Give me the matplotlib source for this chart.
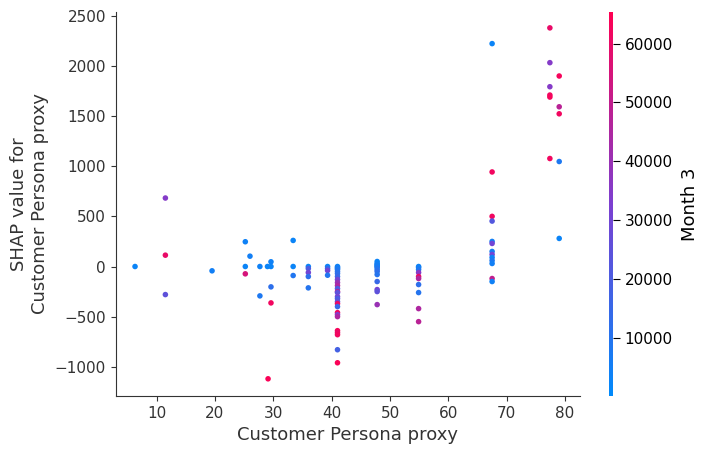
import matplotlib
matplotlib.use("Agg")
import matplotlib.pyplot as plt
from matplotlib.colors import LinearSegmentedColormap

# (x, shap value, Month 3)
x_vals = [6.3, 11.5, 11.5, 11.5, 19.5,
          25.2, 26.0, 25.2, 25.2, 27.7, 27.7, 29.0, 29.6, 29.6, 29.6, 29.6, 29.1,
          33.4, 33.4, 33.4,
          36, 36, 36, 36, 36,
          39.3, 39.3, 39.3, 39.3,
          41, 41, 41, 41, 41, 41, 41, 41, 41, 41, 41, 41, 41, 41, 41, 41, 41, 41, 41, 41, 41, 41, 41, 41, 41, 41,
          47.8, 47.8, 47.8, 47.8, 47.8, 47.8, 47.8, 47.8, 47.8, 47.8, 47.8, 47.8, 47.8,
          54.9, 54.9, 54.9, 54.9, 54.9, 54.9, 54.9, 54.9, 54.9, 54.9,
          77.4, 67.5, 77.4, 79, 77.4, 77.4, 77.4, 79, 79, 77.4, 79, 67.5, 67.5, 67.5, 79,
          67.5, 67.5, 67.5, 67.5, 67.5, 67.5, 67.5, 67.5, 67.5]
shap_vals = [0, 683, 113, -280, -43,
             247, 103, 0, -73, 0, -293, 0, 47, 0, -203, -363, -1120,
             260, 0, -90,
             0, -20, -60, -100, -213,
             0, -20, -40, -87,
             0, -10, -20, -30, -50, -70, -100, -130, -160, -190, -220, -250, -260, -300, -320, -350, -370, -400, -460, -480, -500, -640, -660, -680, -830, -960,
             50, 30, 20, 10, 0, -10, -30, -50, -80, -150, -230, -250, -380,
             0, -10, -30, -60, -100, -120, -180, -260, -420, -550,
             2380, 2223, 2033, 1900, 1793, 1710, 1690, 1593, 1523, 1077, 1047, 943, 500, 453, 280,
             250, 230, 150, 120, 90, 60, 30, -120, -150]
month3 = [3000, 35000, 60000, 25000, 5000,
          4000, 5000, 3000, 55000, 4000, 8000, 3000, 4000, 3000, 12000, 62000, 64000,
          3000, 3000, 9000,
          3000, 20000, 30000, 12000, 10000,
          3000, 15000, 30000, 9000,
          3000, 5000, 6000, 8000, 10000, 12000, 15000, 30000, 40000, 45000, 20000, 50000, 25000, 30000, 20000, 25000, 60000, 15000, 62000, 35000, 45000, 63000, 60000, 62000, 18000, 64000,
          3000, 4000, 5000, 6000, 4000, 8000, 10000, 12000, 10000, 15000, 30000, 25000, 40000,
          3000, 5000, 8000, 35000, 60000, 45000, 12000, 10000, 45000, 48000,
          60000, 3000, 35000, 63000, 35000, 62000, 63000, 48000, 62000, 62000, 8000, 62000, 62000, 22000, 3000,
          5000, 30000, 6000, 30000, 4000, 8000, 5000, 50000, 4000]

cmap = LinearSegmentedColormap.from_list("shap", ["#008afb", "#7c3fd0", "#ff0052"])

fig = plt.figure(figsize=(7.06, 4.55), dpi=100)
ax = fig.add_axes([0.164, 0.13, 0.657, 0.844])
sc = ax.scatter(x_vals, shap_vals, c=month3, cmap=cmap, vmin=100, vmax=65400, s=16, linewidths=0)
ax.set_xlim(3, 82.5)
ax.set_ylim(-1290, 2540)
ax.set_xticks([10, 20, 30, 40, 50, 60, 70, 80])
ax.set_yticks([-1000, -500, 0, 500, 1000, 1500, 2000, 2500])
ax.set_yticklabels(["\u22121000", "\u2212500", "0", "500", "1000", "1500", "2000", "2500"])
for s in ["top", "right"]:
    ax.spines[s].set_visible(False)
for s in ["left", "bottom"]:
    ax.spines[s].set_color("#333333")
ax.tick_params(labelsize=11, colors="#333333", labelcolor="#333333")
ax.set_xlabel("Customer Persona proxy", fontsize=13, color="#333333")
ax.set_ylabel("SHAP value for\nCustomer Persona proxy", fontsize=13, color="#333333")

cax = fig.add_axes([0.862, 0.13, 0.006, 0.844])
cb = fig.colorbar(sc, cax=cax)
cb.outline.set_visible(False)
cb.set_ticks([10000, 20000, 30000, 40000, 50000, 60000])
cb.ax.tick_params(labelsize=11, length=5)
cb.set_label("Month 3", fontsize=13, labelpad=6)

fig.savefig("out.png", dpi=100)
